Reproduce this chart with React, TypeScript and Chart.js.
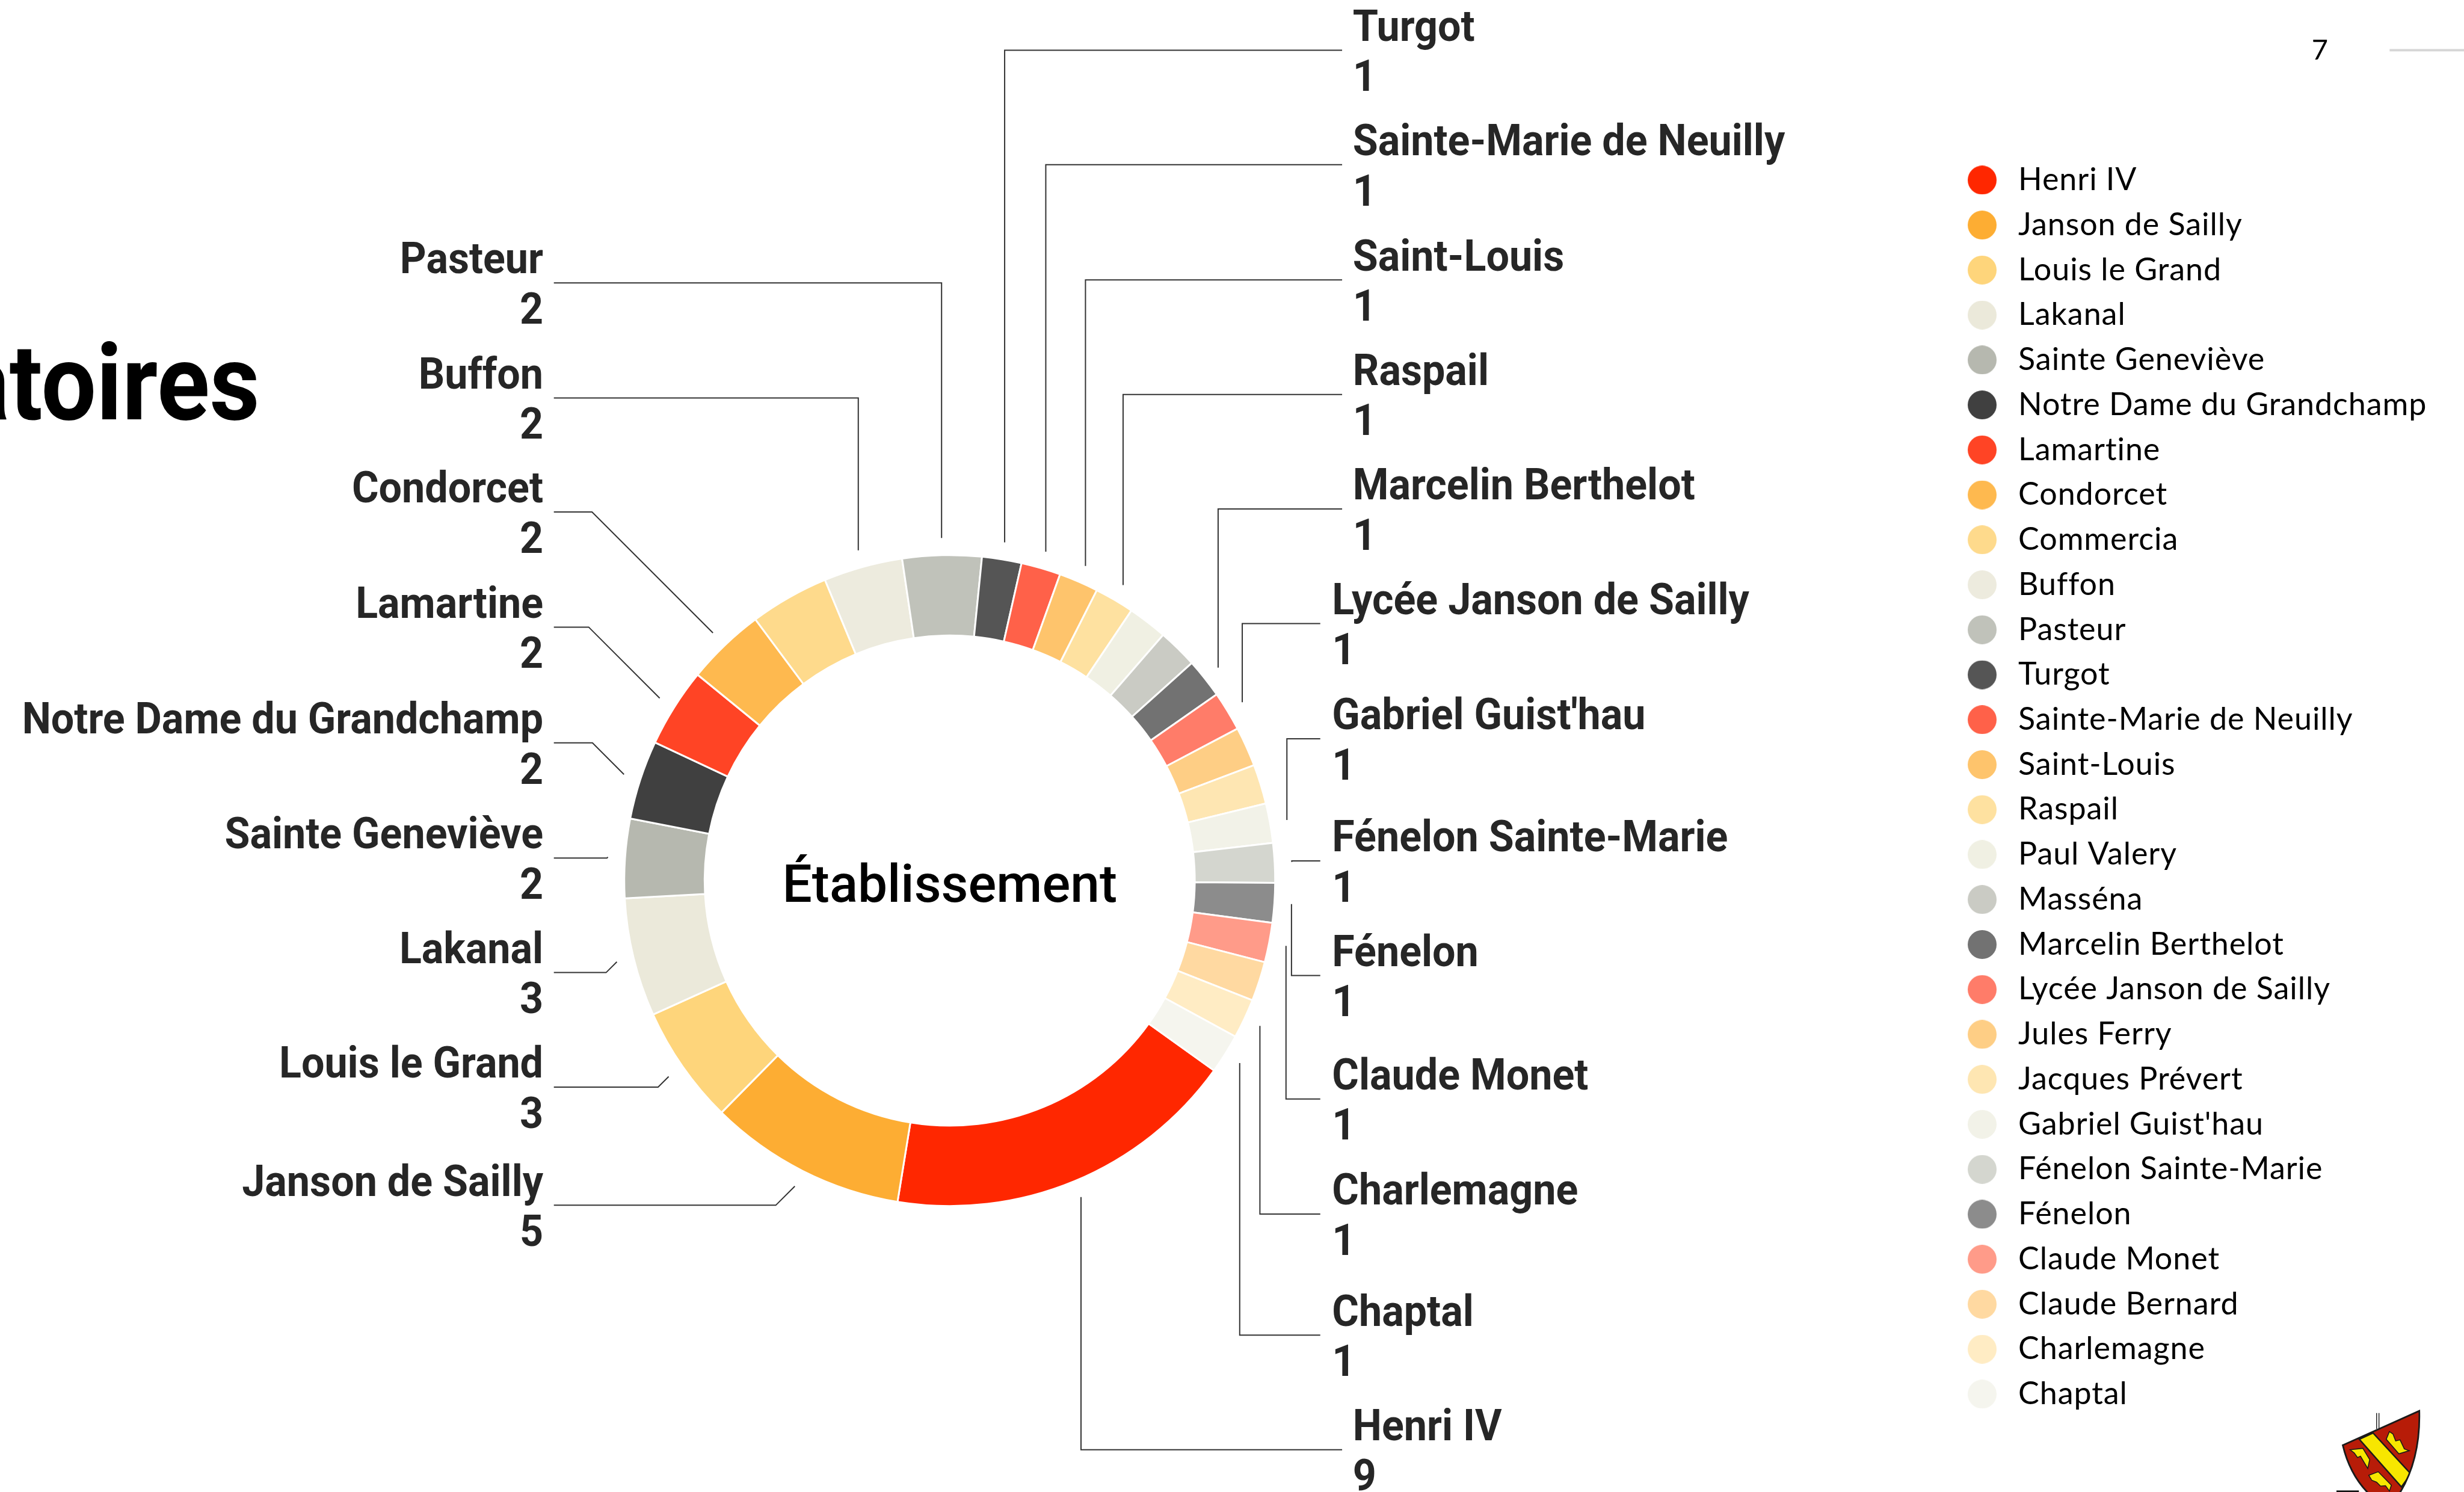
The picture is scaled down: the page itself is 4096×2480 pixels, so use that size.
import React, { useEffect, useRef } from 'react';
import { Chart, registerables } from 'chart.js';

Chart.register(...registerables);

// ---------------- DATA ----------------
const labels = [
  'Henri IV',
  'Janson de Sailly',
  'Louis le Grand',
  'Lakanal',
  'Sainte Geneviève',
  'Notre Dame du Grandchamp',
  'Lamartine',
  'Condorcet',
  'Commercia',
  'Buffon',
  'Pasteur',
  'Turgot',
  'Sainte-Marie de Neuilly',
  'Saint-Louis',
  'Raspail',
  'Paul Valery',
  'Masséna',
  'Marcelin Berthelot',
  'Lycée Janson de Sailly',
  'Jules Ferry',
  'Jacques Prévert',
  "Gabriel Guist'hau",
  'Fénelon Sainte-Marie',
  'Fénelon',
  'Claude Monet',
  'Claude Bernard',
  'Charlemagne',
  'Chaptal',
];

const values = [9, 5, 3, 3, 2, 2, 2, 2, 2, 2, 2, 1, 1, 1, 1, 1, 1, 1, 1, 1, 1, 1, 1, 1, 1, 1, 1, 1];

const colors = [
  '#ff2700', '#fdad33', '#fed57b', '#ebe9da', '#b6b8af', '#404040', '#ff4425',
  '#feb94f', '#feda8c', '#edebde', '#c0c2ba', '#555555', '#ff6149', '#fec46c',
  '#fee1a0', '#f0f0e3', '#cacbc4', '#727272', '#ff7c69', '#fece85', '#fee6b2',
  '#f2f2e8', '#d4d6cf', '#8c8c8c', '#ff9b89', '#ffd9a1', '#ffecc4', '#f5f5ee',
];

const centerTitle = 'Établissement';
const pageTitleFragment = 'atoires';
const pageNumber = '7';

// ---------------- LAYOUT (reference pixel units, scaled by S) ----------------
const S = 4096 / 4173;
const REF = (v: number) => v * S;

const CX = REF(1608.4);
const CY = REF(1491.2);
const R_OUT = REF(551.2);
const CUTOUT = '75.3%';
const ROTATION = 125.7;
const TICK_RATIO = 580 / 551;

const LABEL_PX = 72;
const LEGEND_PX = 52;
const LEGEND_PAD = 22.74;
const LEGEND_LEFT = REF(3357) - 34 - LEGEND_PAD;
const LEGEND_TOP = REF(305) - LEGEND_PAD - LEGEND_PX / 2;

// leader-label slots: which label sits in which row (reference y of its leader line)
const labelSlots = [
  { name: 'Turgot', side: 'right', col: 'a', lineY: 85 },
  { name: 'Sainte-Marie de Neuilly', side: 'right', col: 'a', lineY: 279 },
  { name: 'Saint-Louis', side: 'right', col: 'a', lineY: 474 },
  { name: 'Raspail', side: 'right', col: 'a', lineY: 668 },
  { name: 'Marcelin Berthelot', side: 'right', col: 'a', lineY: 862 },
  { name: 'Lycée Janson de Sailly', side: 'right', col: 'b', lineY: 1056 },
  { name: "Gabriel Guist'hau", side: 'right', col: 'b', lineY: 1251 },
  { name: 'Fénelon Sainte-Marie', side: 'right', col: 'b', lineY: 1458 },
  { name: 'Fénelon', side: 'right', col: 'b', lineY: 1652 },
  { name: 'Claude Monet', side: 'right', col: 'b', lineY: 1861 },
  { name: 'Charlemagne', side: 'right', col: 'b', lineY: 2056 },
  { name: 'Chaptal', side: 'right', col: 'b', lineY: 2261 },
  { name: 'Henri IV', side: 'right', col: 'a', lineY: 2455 },
  { name: 'Pasteur', side: 'left', diag: false, lineY: 479 },
  { name: 'Buffon', side: 'left', diag: false, lineY: 674 },
  { name: 'Condorcet', side: 'left', diag: true, lineY: 867 },
  { name: 'Lamartine', side: 'left', diag: true, lineY: 1062 },
  { name: 'Notre Dame du Grandchamp', side: 'left', diag: true, lineY: 1258 },
  { name: 'Sainte Geneviève', side: 'left', diag: true, lineY: 1453 },
  { name: 'Lakanal', side: 'left', diag: true, lineY: 1647 },
  { name: 'Louis le Grand', side: 'left', diag: true, lineY: 1841 },
  { name: 'Janson de Sailly', side: 'left', diag: true, lineY: 2041 },
];

function setLS(ctx: any, v: number) {
  if ('letterSpacing' in ctx) ctx.letterSpacing = v + 'px';
}

function drawScaled(ctx: any, text: string, x: number, y: number, sx: number, align: string) {
  ctx.save();
  ctx.translate(x, y);
  ctx.scale(sx, 1);
  ctx.textAlign = align;
  ctx.textBaseline = 'alphabetic';
  ctx.fillText(text, 0, 0);
  ctx.restore();
}

function drawShield(ctx: any) {
  ctx.save();
  ctx.scale(S, S);
  const shield = () => {
    ctx.beginPath();
    ctx.moveTo(3967.7, 2447.3);
    ctx.lineTo(4097.3, 2389.3);
    ctx.quadraticCurveTo(4100, 2490, 4045, 2555);
    ctx.quadraticCurveTo(3985, 2520, 3967.7, 2447.3);
    ctx.closePath();
  };
  // small mast lines
  ctx.strokeStyle = '#222';
  ctx.lineWidth = 1.5;
  ctx.beginPath();
  ctx.moveTo(4025, 2393); ctx.lineTo(4025, 2420);
  ctx.moveTo(4029, 2393); ctx.lineTo(4029, 2420);
  ctx.stroke();
  shield();
  ctx.fillStyle = '#b71c08';
  ctx.fill();
  ctx.save();
  shield();
  ctx.clip();
  ctx.beginPath();
  ctx.moveTo(3995.7, 2437.3);
  ctx.lineTo(4019, 2426.7);
  ctx.lineTo(4083, 2496);
  ctx.lineTo(4067, 2518);
  ctx.closePath();
  ctx.fillStyle = '#f7e600';
  ctx.fill();
  ctx.lineWidth = 2.4;
  ctx.strokeStyle = '#1a1a1a';
  ctx.stroke();
  const crowns = [
    [[4046.7, 2424.3], [4041.3, 2437.3], [4062.7, 2462], [4080.3, 2456.7], [4072, 2453.7], [4064.7, 2438.3], [4057.3, 2440], [4052.7, 2428.3]],
    [[3980, 2455], [4001.7, 2452.7], [4013.3, 2471.7], [4010, 2486.7], [4005, 2478.3], [3997.7, 2466], [3992.7, 2468.3], [3987.3, 2460.7]],
    [[4011.7, 2498.3], [4027.7, 2492.3], [4050, 2515], [4046.7, 2525], [4040, 2516], [4031.7, 2516.7], [4025, 2510], [4016.7, 2506.7]],
  ];
  crowns.forEach((pts) => {
    ctx.beginPath();
    pts.forEach((p, k) => (k ? ctx.lineTo(p[0], p[1]) : ctx.moveTo(p[0], p[1])));
    ctx.closePath();
    ctx.fillStyle = '#f7e600';
    ctx.fill();
    ctx.lineWidth = 1.6;
    ctx.stroke();
  });
  ctx.restore();
  shield();
  ctx.lineWidth = 2.8;
  ctx.strokeStyle = '#1a1a1a';
  ctx.stroke();
  ctx.fillStyle = '#111';
  ctx.fillRect(3957, 2524, 38, 3);
  ctx.restore();
}

const decorPlugin = {
  id: 'decor',
  afterLayout(chart: any) {
    const lg = chart.legend;
    if (!lg) return;
    lg.update(1200, 2300, { left: 0, top: 0, right: 0, bottom: 0 });
    lg.left = LEGEND_LEFT;
    lg.top = LEGEND_TOP;
    lg.right = 4096;
    lg.bottom = 2480;
    lg.width = lg.right - lg.left;
    lg.height = lg.bottom - lg.top;
  },
  beforeDraw(chart: any) {
    const ctx = chart.ctx;
    setLS(ctx, 0);
    ctx.save();
    ctx.font = `400 ${LEGEND_PX}px Lato`;
    const w = ctx.measureText('Notre Dame du Grandchamp').width;
    ctx.restore();
    const ls = Math.max(-2, Math.min(6, (REF(692) - w) / 24));
    setLS(ctx, ls);
  },
  beforeDatasetsDraw(chart: any) {
    setLS(chart.ctx, 0);
  },
  afterDraw(chart: any) {
    const ctx = chart.ctx;
    setLS(ctx, 0);
    ctx.save();

    // leader lines + labels
    ctx.font = `700 ${LABEL_PX}px Roboto`;
    const sx = REF(732) / ctx.measureText('Sainte-Marie de Neuilly').width;
    const meta = chart.getDatasetMeta(0);
    labelSlots.forEach((slot: any) => {
      const i = labels.indexOf(slot.name);
      const arc = meta.data[i];
      if (!arc) return;
      const p = arc.getProps(['x', 'y', 'startAngle', 'endAngle', 'outerRadius'], true);
      const a = (p.startAngle + p.endAngle) / 2;
      const r = p.outerRadius * TICK_RATIO;
      const ax = p.x + Math.cos(a) * r;
      const ay = p.y + Math.sin(a) * r;
      const ly = REF(slot.lineY);
      ctx.beginPath();
      ctx.moveTo(ax, ay);
      let tx: number;
      let align: string;
      if (slot.side === 'right') {
        ctx.lineTo(ax, ly);
        ctx.lineTo(REF(slot.col === 'a' ? 2273 : 2236), ly);
        tx = REF(slot.col === 'a' ? 2291 : 2256);
        align = 'left';
      } else {
        const ex = slot.diag ? ax - Math.abs(ly - ay) : ax;
        ctx.lineTo(ex, ly);
        ctx.lineTo(REF(938), ly);
        tx = REF(920);
        align = 'right';
      }
      ctx.strokeStyle = '#333333';
      ctx.lineWidth = 2;
      ctx.stroke();
      ctx.fillStyle = '#262626';
      ctx.font = `700 ${LABEL_PX}px Roboto`;
      drawScaled(ctx, slot.name, tx, ly - REF(16), sx, align);
      drawScaled(ctx, String(values[i]), tx, ly + REF(69), sx, align);
    });

    // center text
    ctx.fillStyle = '#000';
    ctx.font = `500 87px Roboto`;
    const cw = ctx.measureText(centerTitle).width;
    drawScaled(ctx, centerTitle, CX, REF(1527.5), REF(567) / cw, 'center');

    // partial page title at left
    ctx.font = `700 176px Roboto`;
    const tw = ctx.measureText('toires').width;
    drawScaled(ctx, pageTitleFragment, REF(440), REF(710), REF(424) / tw, 'right');

    // page number & rule
    ctx.font = `400 47px Lato`;
    ctx.textAlign = 'left';
    ctx.fillText(pageNumber, REF(3915), REF(101));
    ctx.fillStyle = '#d6d6d6';
    ctx.fillRect(REF(4047), REF(83), 4096 - REF(4047), REF(4));

    drawShield(ctx);
    ctx.restore();
  },
};

export default function App() {
  const ref = useRef<HTMLCanvasElement>(null);
  useEffect(() => {
    document.body.style.margin = '0';
    const dots = colors.map((c) => {
      const cv = document.createElement('canvas');
      cv.width = 48;
      cv.height = 48;
      const g = cv.getContext('2d')!;
      g.fillStyle = c;
      g.beginPath();
      g.arc(24, 24, 24, 0, Math.PI * 2);
      g.fill();
      return cv;
    });
    const W = 4096;
    const H = 2480;
    const half = R_OUT + 20;
    const chart = new Chart(ref.current as HTMLCanvasElement, {
      type: 'doughnut',
      data: {
        labels,
        datasets: [
          {
            data: values,
            backgroundColor: colors,
            borderColor: '#ffffff',
            borderWidth: 3,
            hoverOffset: 0,
          } as any,
        ],
      },
      options: {
        responsive: false,
        maintainAspectRatio: false,
        animation: false,
        devicePixelRatio: 1,
        events: [],
        rotation: ROTATION,
        cutout: CUTOUT,
        radius: R_OUT,
        layout: {
          padding: {
            left: CX - half,
            right: W - (CX + half),
            top: CY - half,
            bottom: H - (CY + half),
          },
        },
        plugins: {
          tooltip: { enabled: false },
          legend: {
            display: true,
            position: 'chartArea',
            align: 'start',
            labels: {
              usePointStyle: true,
              pointStyleWidth: 68,
              boxHeight: 34,
              padding: LEGEND_PAD,
              color: '#000000',
              font: { family: 'Lato', size: LEGEND_PX, weight: 'normal' },
              generateLabels: () =>
                labels.map((text, i) => ({
                  text,
                  fillStyle: colors[i],
                  strokeStyle: colors[i],
                  lineWidth: 0,
                  pointStyle: dots[i],
                  hidden: false,
                  index: i,
                  fontColor: '#000000',
                })),
            },
          },
        },
      } as any,
      plugins: [decorPlugin as any],
    });
    return () => chart.destroy();
  }, []);
  return (
    <div style={{ position: 'fixed', left: 0, top: 0, width: 4096, height: 2480, background: '#ffffff', overflow: 'hidden' }}>
      <canvas ref={ref} width={4096} height={2480} style={{ width: 4096, height: 2480, display: 'block' }} />
    </div>
  );
}
